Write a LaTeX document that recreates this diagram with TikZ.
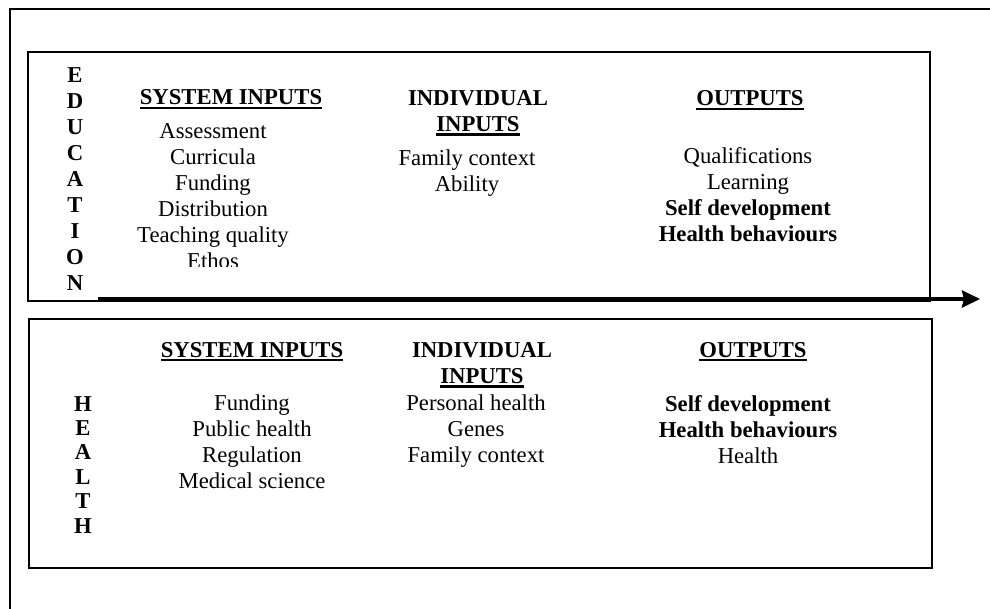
\documentclass[tikz,border=0pt]{standalone}
\usepackage{fontspec}
\setmainfont{Liberation Serif}
\usetikzlibrary{arrows.meta}
\newcommand{\ulbar}[1]{\leavevmode\vtop{\hbox{#1}\kern1.6pt\hrule height 2.6pt}}

\begin{document}
\begin{tikzpicture}
          [x=1pt,y=-1pt,
           every node/.style={inner sep=0pt,align=center,font=\fontsize{22.7}{26}\selectfont},
           hdr/.style={font=\fontsize{22.7}{26}\selectfont\bfseries},
           side/.style={font=\fontsize{22.7}{26}\selectfont\bfseries},
           panel/.style={draw,line width=1.5pt}]

          \useasboundingbox (0,0) rectangle (990,609);
          \draw[line width=2pt] (10,609) -- (10,9) -- (990,9);
          \draw[panel] (28,52) rectangle (930,301);
          \draw[panel] (29,319) rectangle (932,568);

          % education
          \node[side,anchor=north] (edu) at (75,67) {E\\D\\U\\C\\A\\T\\I\\O\\N};
          \node[hdr,anchor=base] (eduSys) at (231,105) {\ulbar{SYSTEM INPUTS}};
          \begin{scope}
            \clip (100,60) rectangle (400,267);
            \node[anchor=north] (eduSysList) at (213,123) {Assessment\\Curricula\\Funding\\Distribution\\Teaching quality\\Ethos};
          \end{scope}
          \node[hdr,anchor=north] (eduInd) at (478,90) {INDIVIDUAL\\\ulbar{INPUTS}};
          \node[anchor=north] (eduIndList) at (467,150) {Family context\\Ability};
          \node[hdr,anchor=base] (eduOut) at (750,106) {\ulbar{OUTPUTS}};
          \node[anchor=north] (eduOutList) at (748,147) {Qualifications\\Learning\\\textbf{Self development}\\\textbf{Health behaviours}};

          % health
          \node[side,anchor=north,font=\fontsize{22.7}{24.4}\selectfont\bfseries] (hlth) at (83,396) {H\\E\\A\\L\\T\\H};
          \node[hdr,anchor=base] (hlthSys) at (252,357) {\ulbar{SYSTEM INPUTS}};
          \node[anchor=north] (hlthSysList) at (252,395) {Funding\\Public health\\Regulation\\Medical science};
          \node[hdr,anchor=north] (hlthInd) at (482,342) {INDIVIDUAL\\\ulbar{INPUTS}};
          \node[anchor=north] (hlthIndList) at (476,395) {Personal health\\Genes\\Family context};
          \node[hdr,anchor=base] (hlthOut) at (753,357) {\ulbar{OUTPUTS}};
          \node[anchor=north] (hlthOutList) at (748,395) {\textbf{Self development}\\\textbf{Health behaviours}\\Health};

          \coordinate (flowStart) at (98,299);
          \coordinate (flowEnd) at (980,299);
          \draw[line width=4.5pt,-{Stealth[length=18pt,width=17pt,inset=2pt]}] (flowStart) -- (flowEnd);
        \end{tikzpicture}
\end{document}
